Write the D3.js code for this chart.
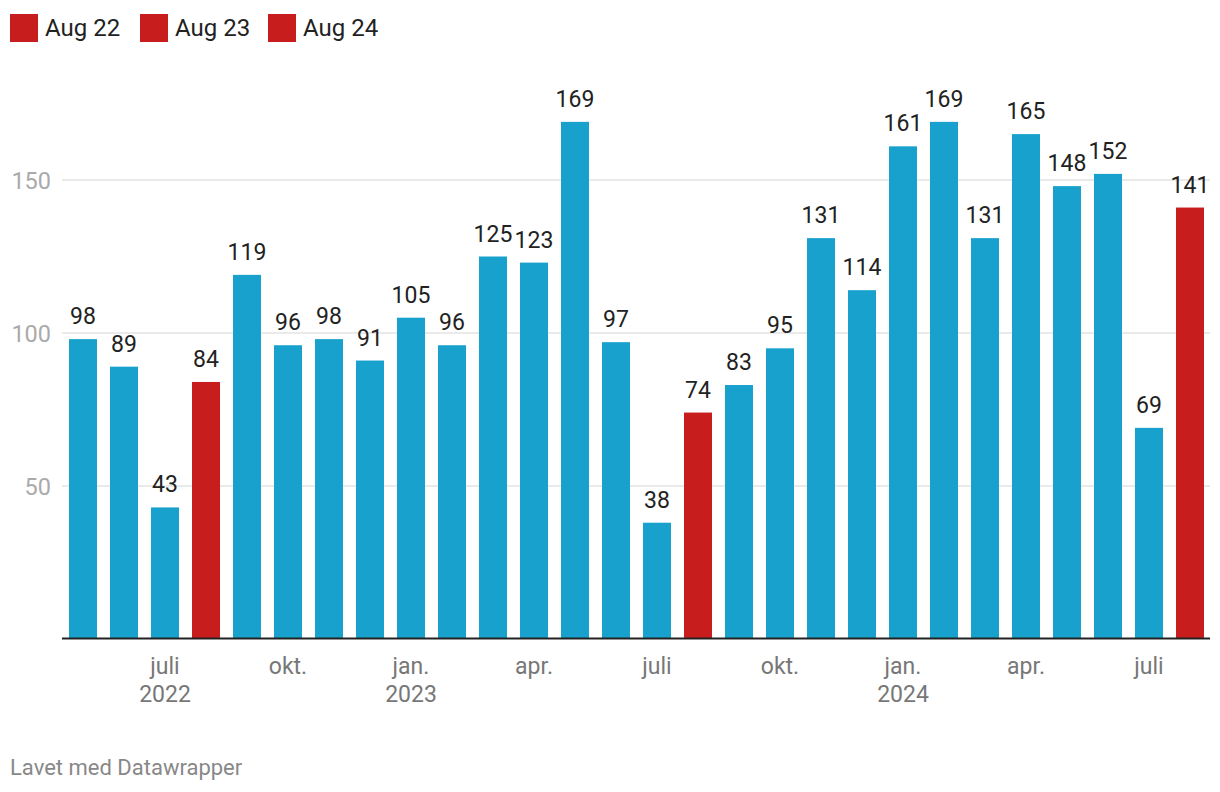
<!DOCTYPE html>
<html><head><meta charset="utf-8">
<script src="https://cdn.jsdelivr.net/npm/d3@7"></script>
<style>body{margin:0;background:#fff;font-family:Roboto,sans-serif;}</style>
</head><body>
<svg id="c" width="1220" height="792"></svg>
<script>
const months = ["2022-05","2022-06","2022-07","2022-08","2022-09","2022-10","2022-11","2022-12",
"2023-01","2023-02","2023-03","2023-04","2023-05","2023-06","2023-07","2023-08","2023-09","2023-10","2023-11","2023-12",
"2024-01","2024-02","2024-03","2024-04","2024-05","2024-06","2024-07","2024-08"];
const values = [98,89,43,84,119,96,98,91,105,96,125,123,169,97,38,74,83,95,131,114,161,169,131,165,148,152,69,141];
const highlighted = ["2022-08","2023-08","2024-08"];
const legendLabels = ["Aug 22","Aug 23","Aug 24"];
const yTicks = [50,100,150];
const xTicks = [["2022-07","juli","2022"],["2022-10","okt.",""],["2023-01","jan.","2023"],["2023-04","apr.",""],
["2023-07","juli",""],["2023-10","okt.",""],["2024-01","jan.","2024"],["2024-04","apr.",""],["2024-07","juli",""]];

const blue="#18a1cd", red="#c71e1d";
const svg=d3.select("#c");
const x=d3.scaleBand().domain(months).range([62.5,1210.5]).paddingInner(0.317).paddingOuter(0.1585);
const y=d3.scaleLinear().domain([0,150]).range([639,180]);

// gridlines
svg.append("g").selectAll("line").data(yTicks).join("line")
 .attr("x1",62).attr("x2",1210).attr("y1",d=>y(d)).attr("y2",d=>y(d))
 .attr("stroke","#e3e3e3").attr("stroke-width",1.5);
svg.append("g").selectAll("text").data(yTicks).join("text")
 .attr("x",51).attr("y",d=>y(d)+8.5).attr("text-anchor","end")
 .attr("font-size",23.5).attr("fill","#aaa").text(d=>d);

// bars
svg.append("g").selectAll("rect").data(months).join("rect")
 .attr("x",d=>x(d)).attr("width",x.bandwidth())
 .attr("y",(d,i)=>y(values[i])).attr("height",(d,i)=>y(0)-y(values[i]))
 .attr("fill",d=>highlighted.includes(d)?red:blue);

// value labels
svg.append("g").selectAll("text").data(months).join("text")
 .attr("x",d=>x(d)+x.bandwidth()/2).attr("y",(d,i)=>y(values[i])-15)
 .attr("text-anchor","middle").attr("font-size",23).attr("fill","#222")
 .text((d,i)=>values[i]);

// baseline
svg.append("line").attr("x1",62).attr("x2",1210).attr("y1",y(0)-0.5).attr("y2",y(0)-0.5)
 .attr("stroke","#222").attr("stroke-width",2);

// x ticks
const xt=svg.append("g").selectAll("g").data(xTicks).join("g")
 .attr("transform",d=>`translate(${x(d[0])+x.bandwidth()/2},0)`);
xt.append("text").attr("y",674).attr("text-anchor","middle").attr("font-size",23).attr("fill","#777").text(d=>d[1]);
xt.append("text").attr("y",702).attr("text-anchor","middle").attr("font-size",23).attr("fill","#777").text(d=>d[2]);

// legend
const lg=svg.append("g").selectAll("g").data(legendLabels).join("g")
 .attr("transform",(d,i)=>`translate(${[10,140,268][i]},14)`);
lg.append("rect").attr("width",28).attr("height",28).attr("fill",red);
lg.append("text").attr("x",35).attr("y",22).attr("font-size",24).attr("fill","#222").text(d=>d);

// footer
svg.append("text").attr("x",10).attr("y",775).attr("font-size",22).attr("fill","#888").text("Lavet med Datawrapper");
</script>
</body></html>
